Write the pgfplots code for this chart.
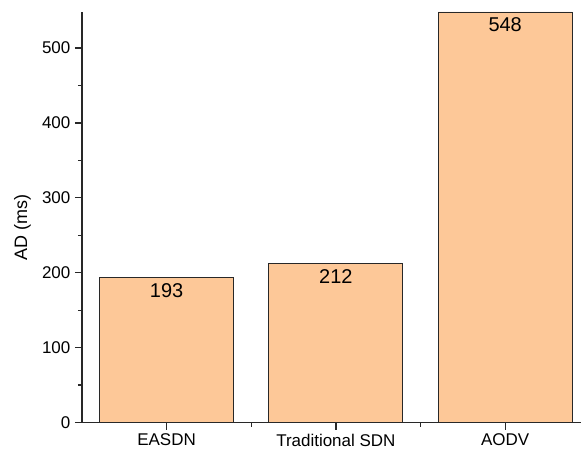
\documentclass[border=0pt]{standalone}
\usepackage{pgfplots}
\pgfplotsset{compat=1.18}
\usepackage{fontspec}
\setmainfont{Liberation Sans}
\definecolor{barfill}{RGB}{253,200,152}
\definecolor{axgray}{RGB}{40,40,40}
\begin{document}
\begin{tikzpicture}
\begin{axis}[
  name=ax,
  scale only axis, width=500pt, height=411pt,
  xmin=-0.5, xmax=2.45, ymin=0, ymax=548,
  axis x line*=bottom, axis y line*=left,
  axis line style={line width=1.3pt, color=axgray},
  ybar, bar width=134pt,
  xtick={0,1,2},
  xticklabels={EASDN, Traditional SDN, AODV},
  minor xtick={0.5,1.5},
  ytick={0,100,200,300,400,500},
  minor ytick={50,150,250,350,450},
  tick align=outside,
  major tick length=7pt, minor tick length=4pt,
  tick style={line width=1.3pt, color=axgray},
  /pgf/number format/assume math mode=true,
  ticklabel style={font=\fontsize{17}{20}\selectfont, text=black},
  xticklabel style={yshift=-1pt},
  yticklabel style={xshift=-1pt},
  ylabel={AD (ms)},
  ylabel style={at={(axis description cs:-0.119,0.475)}, anchor=center, font=\fontsize{18}{21}\selectfont},
  nodes near coords,
  nodes near coords style={anchor=north, inner ysep=5pt, font=\fontsize{20}{22}\selectfont, text=black},
  clip=false,
]
\addplot[fill=barfill, draw=axgray, line width=0.9pt] coordinates {(0,193) (1,212) (2,548)};
\end{axis}
\path (ax.south west) ++(-82pt,-30pt) rectangle ([yshift=12pt]ax.north east);
\end{tikzpicture}
\end{document}
